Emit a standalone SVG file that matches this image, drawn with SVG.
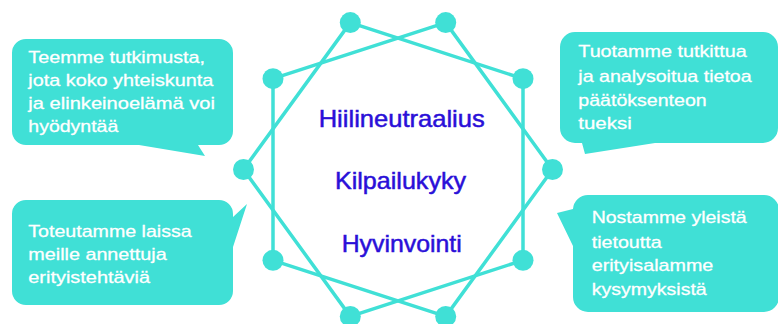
<svg xmlns="http://www.w3.org/2000/svg" width="778" height="324" viewBox="0 0 778 324">
<style>
.bub{fill:#40E0D6;}
.bt{font-family:"Liberation Sans",Arial,sans-serif;font-size:17px;fill:#ffffff;stroke:#ffffff;stroke-width:0.3;}
.ct{font-family:"Liberation Sans",Arial,sans-serif;font-size:24px;fill:#2A0FD8;stroke:#2A0FD8;stroke-width:0.5;text-anchor:middle;}
.ln{fill:none;stroke:#40E0D6;stroke-width:3.5;stroke-linejoin:round;}
.dot{fill:#40E0D6;}
</style>
<rect width="778" height="324" fill="#ffffff"/>
<g id="connectors">
<polygon class="ln" points="523,78.7 350.3,22.6 243.5,169.5 350.3,316.4 523,260.3"/>
<polygon class="ln" points="552.5,169.5 445.7,22.6 273,78.7 273,260.3 445.7,316.4"/>
</g>
<g id="ring-nodes">
<circle class="dot" cx="552.5" cy="169.5" r="10.5"/>
<circle class="dot" cx="523" cy="78.7" r="10.5"/>
<circle class="dot" cx="445.7" cy="22.6" r="10.5"/>
<circle class="dot" cx="350.3" cy="22.6" r="10.5"/>
<circle class="dot" cx="273" cy="78.7" r="10.5"/>
<circle class="dot" cx="243.5" cy="169.5" r="10.5"/>
<circle class="dot" cx="273" cy="260.3" r="10.5"/>
<circle class="dot" cx="350.3" cy="316.4" r="10.5"/>
<circle class="dot" cx="445.7" cy="316.4" r="10.5"/>
<circle class="dot" cx="523" cy="260.3" r="10.5"/>
</g>
<g id="center">
<text class="ct" x="401.7" y="127.3" textLength="166" lengthAdjust="spacingAndGlyphs">Hiilineutraalius</text>
<text class="ct" x="400.5" y="189.3" textLength="131" lengthAdjust="spacingAndGlyphs">Kilpailukyky</text>
<text class="ct" x="401.7" y="251.7" textLength="120" lengthAdjust="spacingAndGlyphs">Hyvinvointi</text>
</g>
<g id="bubble-tutkimus">
<path class="bub" d="M26,39 H219 A14,14 0 0 1 233,53 V131 A14,14 0 0 1 219,145 H198 L205,156 L139,145 H26 A14,14 0 0 1 12,131 V53 A14,14 0 0 1 26,39 Z"/>
<text class="bt" x="28.3" y="63.3" textLength="176.7" lengthAdjust="spacingAndGlyphs">Teemme tutkimusta,</text>
<text class="bt" x="28.3" y="86.3" textLength="185" lengthAdjust="spacingAndGlyphs">jota koko yhteiskunta</text>
<text class="bt" x="28.3" y="109.3" textLength="186.7" lengthAdjust="spacingAndGlyphs">ja elinkeinoelämä voi</text>
<text class="bt" x="28.3" y="131.7" textLength="90" lengthAdjust="spacingAndGlyphs">hyödyntää</text>
</g>
<g id="bubble-erityistehtavat">
<path class="bub" d="M26,200 H219 A14,14 0 0 1 233,214 V217 L247,204 L233,247 V291 A14,14 0 0 1 219,305 H26 A14,14 0 0 1 12,291 V214 A14,14 0 0 1 26,200 Z"/>
<text class="bt" x="28.3" y="236.7" textLength="163.4" lengthAdjust="spacingAndGlyphs">Toteutamme laissa</text>
<text class="bt" x="28.3" y="260" textLength="138.4" lengthAdjust="spacingAndGlyphs">meille annettuja</text>
<text class="bt" x="28.3" y="283.3" textLength="121.7" lengthAdjust="spacingAndGlyphs">erityistehtäviä</text>
</g>
<g id="bubble-paatoksenteko">
<path class="bub" d="M575,32 H763 A15,15 0 0 1 778,47 V128 A15,15 0 0 1 763,143 H655 L585,154 L582,143 H575 A15,15 0 0 1 560,128 V47 A15,15 0 0 1 575,32 Z"/>
<text class="bt" x="578.3" y="57.3" textLength="168.4" lengthAdjust="spacingAndGlyphs">Tuotamme tutkittua</text>
<text class="bt" x="578.3" y="82" textLength="173.4" lengthAdjust="spacingAndGlyphs">ja analysoitua tietoa</text>
<text class="bt" x="578.3" y="106" textLength="128.4" lengthAdjust="spacingAndGlyphs">päätöksenteon</text>
<text class="bt" x="578.3" y="129.3" textLength="53.4" lengthAdjust="spacingAndGlyphs">tueksi</text>
</g>
<g id="bubble-yleistieto">
<path class="bub" d="M588,195 H764 A15,15 0 0 1 779,210 V297 A15,15 0 0 1 764,312 H588 A15,15 0 0 1 573,297 V246 L557,213 L573,209 A15,15 0 0 1 588,195 Z"/>
<text class="bt" x="591.7" y="223.3" textLength="155" lengthAdjust="spacingAndGlyphs">Nostamme yleistä</text>
<text class="bt" x="591.7" y="248" textLength="70" lengthAdjust="spacingAndGlyphs">tietoutta</text>
<text class="bt" x="591.7" y="271" textLength="121.6" lengthAdjust="spacingAndGlyphs">erityisalamme</text>
<text class="bt" x="591.7" y="295" textLength="115" lengthAdjust="spacingAndGlyphs">kysymyksistä</text>
</g>
</svg>
